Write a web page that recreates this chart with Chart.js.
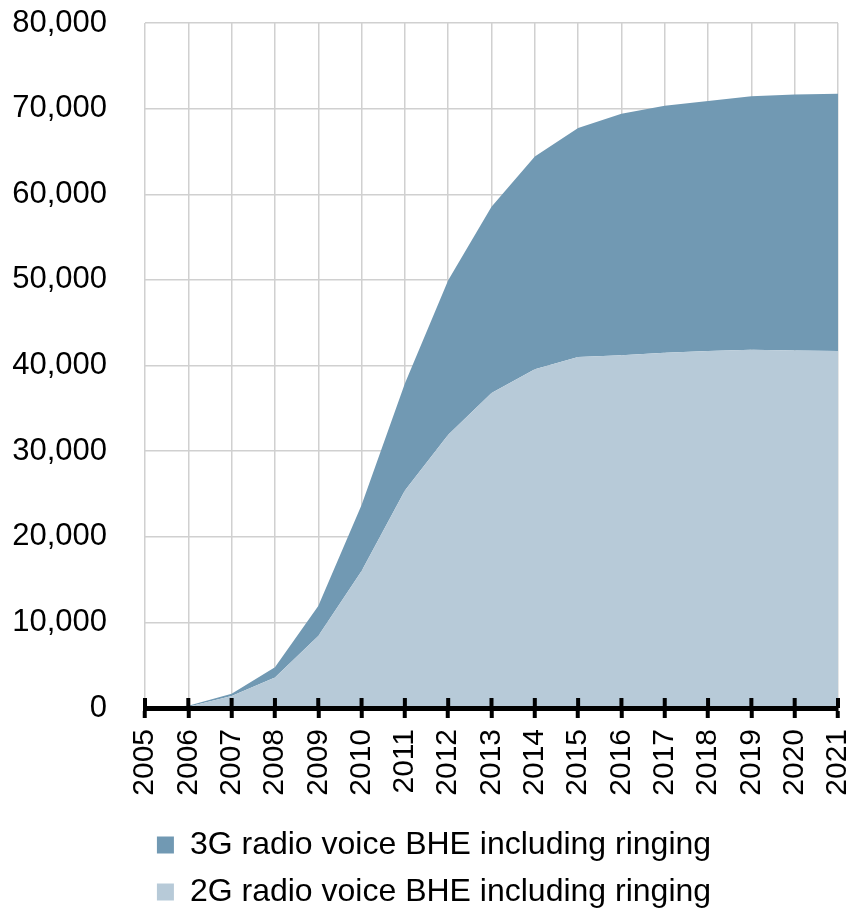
<!DOCTYPE html>
<html>
<head>
<meta charset="utf-8">
<script src="https://cdn.jsdelivr.net/npm/chart.js@4.4.0/dist/chart.umd.min.js"></script>
<style>
  html, body { margin: 0; padding: 0; background: #ffffff; }
  #wrap { width: 853px; height: 910px; position: relative; }
</style>
</head>
<body>
<div id="wrap"><canvas id="chart"></canvas></div>
<script>
// Busy-hour Erlangs of radio voice traffic (incl. ringing), by year
const years = ['2005','2006','2007','2008','2009','2010','2011','2012','2013',
               '2014','2015','2016','2017','2018','2019','2020','2021'];
const voice2G = [0, 150, 1400, 3550, 8400, 16000, 25400, 31900, 36800,
                 39550, 41000, 41200, 41500, 41700, 41850, 41750, 41700];
const voice3G = [0, 100, 250, 1200, 3500, 7700, 12500, 18050, 21750,
                 24850, 26750, 28200, 28850, 29200, 29600, 29900, 30050];
const yTickValues = [0, 10000, 20000, 30000, 40000, 50000, 60000, 70000, 80000];

const label3G = '3G radio voice BHE including ringing';
const label2G = '2G radio voice BHE including ringing';

const FONT = "'Liberation Sans', Arial, sans-serif";

// Draws the upper half of the x-axis tick marks so they cross the axis line
const crossTicks = {
  id: 'crossTicks',
  afterDatasetsDraw(chart) {
    const xs = chart.scales.x;
    const ctx = chart.ctx;
    const y0 = xs.top;
    ctx.save();
    ctx.strokeStyle = '#000000';
    ctx.lineWidth = 4;
    ctx.beginPath();
    xs.ticks.forEach((t, i) => {
      const px = xs.getPixelForTick(i);
      ctx.moveTo(px, y0 - 10);
      ctx.lineTo(px, y0);
    });
    ctx.stroke();
    ctx.restore();
  }
};

// Nudges the legend block a little to the right of the canvas centre
const legendShift = {
  id: 'legendShift',
  afterLayout(chart) {
    if (chart.legend) {
      chart.legend.left += 15;
      chart.legend.right += 15;
    }
  }
};

new Chart(document.getElementById('chart'), {
  type: 'line',
  data: {
    labels: years,
    datasets: [
      {
        label: label2G,
        data: voice2G,
        fill: 'origin',
        backgroundColor: '#B7CAD8',
        borderColor: '#B7CAD8',
        borderWidth: 0,
        pointRadius: 0,
        tension: 0
      },
      {
        label: label3G,
        data: voice3G,
        fill: '-1',
        backgroundColor: '#7199B3',
        borderColor: '#7199B3',
        borderWidth: 0,
        pointRadius: 0,
        tension: 0
      }
    ]
  },
  options: {
    responsive: true,
    maintainAspectRatio: false,
    animation: false,
    layout: { padding: { left: 0, right: 15, top: 23, bottom: -8 } },
    plugins: {
      tooltip: { enabled: false },
      legend: {
        position: 'bottom',
        reverse: true,
        labels: {
          color: '#000000',
          font: { family: FONT, size: 32 },
          boxWidth: 17,
          boxHeight: 17,
          padding: 15
        }
      }
    },
    scales: {
      x: {
        offset: false,
        afterFit(scale) {
          scale.paddingLeft = 0;
          scale.paddingRight = 0;
          scale.height = 106;
        },
        grid: {
          color: '#d0d0d0',
          lineWidth: 1.5,
          drawTicks: true,
          tickLength: 10,
          tickColor: '#000000',
          tickWidth: 4
        },
        border: { display: true, color: '#000000', width: 5, z: 1 },
        ticks: {
          color: '#000000',
          font: { family: FONT, size: 30 },
          minRotation: 90,
          maxRotation: 90,
          padding: 11,
          autoSkip: false
        }
      },
      y: {
        stacked: true,
        min: 0,
        max: 80000,
        afterBuildTicks(scale) {
          scale.ticks = yTickValues.map(v => ({ value: v }));
        },
        afterFit(scale) {
          scale.width = 145;
          scale.paddingTop = 0;
          scale.paddingBottom = 0;
        },
        grid: { color: '#d0d0d0', lineWidth: 1.5, drawTicks: false },
        border: { display: false },
        ticks: {
          color: '#000000',
          font: { family: FONT, size: 31 },
          padding: 38,
          callback: v => Number(v).toLocaleString('en-US')
        }
      }
    }
  },
  plugins: [crossTicks, legendShift]
});
</script>
</body>
</html>
